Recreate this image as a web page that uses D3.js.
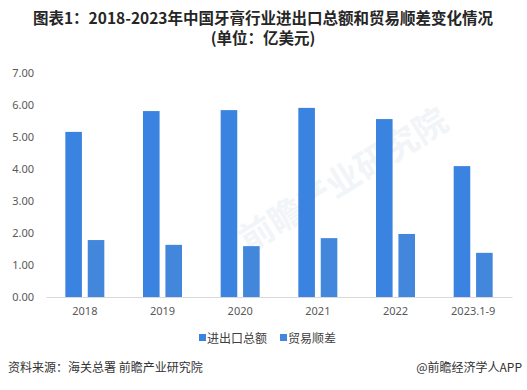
<!DOCTYPE html>
<html lang="zh">
  <head>
    <meta charset="UTF-8" />
    <title>牙膏行业进出口总额和贸易顺差</title>
    <script src="https://d3js.org/d3.v7.min.js"></script>
    <style>
      body { margin: 0; background: #fff; }
      svg { display: block; font-family: "Noto Sans CJK SC", "Noto Sans", sans-serif; }
      .tick text { fill: #595959; font-size: 11px; font-family: "Noto Sans", "Noto Sans CJK SC", sans-serif; }
    </style>
  </head>
  <body>
    <svg width="527" height="390"></svg>
    <script>
      const width = 527;
      const height = 390;

      // 数据
      const years = ["2018", "2019", "2020", "2021", "2022", "2023.1-9"];
      const totalTrade = [5.16, 5.81, 5.84, 5.91, 5.56, 4.09]; // 进出口总额
      const surplus = [1.78, 1.63, 1.59, 1.84, 1.97, 1.38]; // 贸易顺差
      const seriesNames = ["进出口总额", "贸易顺差"];
      const yTicks = [0, 1, 2, 3, 4, 5, 6, 7];
      const colors = ["#3a83e0", "#4387dc"];

      const svg = d3.select("svg");

      // 标题
      const title = svg.append("g").attr("font-weight", "bold").attr("fill", "#262626")
        .attr("text-anchor", "middle").attr("font-size", 15.5);
      title.append("text").attr("x", 263).attr("y", 24)
        .text("图表1：2018-2023年中国牙膏行业进出口总额和贸易顺差变化情况");
      title.append("text").attr("x", 263).attr("y", 44).text("(单位：亿美元)");

      // 水印
      svg.append("text")
        .attr("transform", "translate(350,190) rotate(-32)")
        .attr("text-anchor", "middle")
        .attr("font-size", 34).attr("font-weight", "bold")
        .attr("fill", "#f0f3f7").attr("opacity", 0.8)
        .text("前瞻产业研究院");

      const x0 = d3.scaleBand().domain(years).range([46, 512]);
      const x1 = d3.scaleBand().domain(seriesNames).range([0, 39]).paddingInner(0.26);
      const y = d3.scaleLinear().domain([0, 7]).range([297, 73]);

      // y 轴
      svg.append("g")
        .attr("transform", "translate(37,0)")
        .call(d3.axisLeft(y).tickValues(yTicks).tickFormat(d3.format(".2f")).tickSize(0))
        .call((g) => g.select(".domain").remove());

      // 柱子
      const series = [totalTrade, surplus];
      series.forEach((vals, si) => {
        svg.append("g").selectAll("rect").data(vals).enter().append("rect")
          .attr("x", (d, i) => x0(years[i]) + x0.bandwidth() / 2 - 19.5 + x1(seriesNames[si]))
          .attr("y", (d) => y(d))
          .attr("width", x1.bandwidth())
          .attr("height", (d) => y(0) - y(d))
          .attr("fill", colors[si]);
      });

      // x 轴
      svg.append("g")
        .attr("transform", `translate(0,${y(0)})`)
        .call(d3.axisBottom(x0).tickSize(0).tickPadding(10))
        .call((g) => g.select(".domain").attr("stroke", "#d9d9d9"));

      // 图例
      const legend = svg.append("g").attr("font-size", 12).attr("fill", "#404040");
      const legendX = [199, 280];
      seriesNames.forEach((name, i) => {
        legend.append("rect").attr("x", legendX[i]).attr("y", 334)
          .attr("width", 7).attr("height", 7).attr("fill", colors[i]);
        legend.append("text").attr("x", legendX[i] + 8).attr("y", 343).text(name);
      });

      // 脚注
      svg.append("text").attr("x", 8).attr("y", 372).attr("font-size", 12)
        .attr("fill", "#333").text("资料来源：海关总署 前瞻产业研究院");
      svg.append("text").attr("x", 522).attr("y", 372).attr("font-size", 12)
        .attr("text-anchor", "end").attr("fill", "#333").text("@前瞻经济学人APP");
    </script>
  </body>
</html>
